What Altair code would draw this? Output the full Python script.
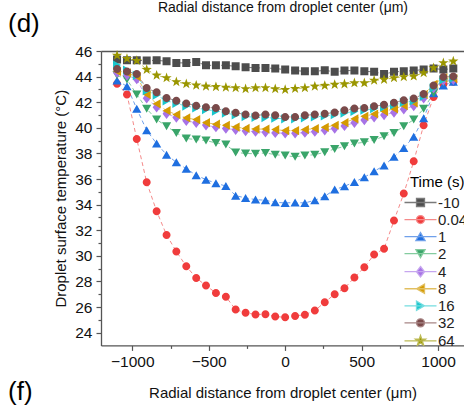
import altair as alt
import pandas as pd

radial_um = [-1100, -1035, -971, -906, -841, -776, -712, -647, -582, -518,
             -453, -388, -324, -259, -194, -129, -65, 0, 65, 129,
             194, 259, 324, 388, 453, 518, 582, 647, 712, 776,
             841, 906, 971, 1035, 1100]

time_labels = ["-10", "0.04", "1", "2", "4", "8", "16", "32", "64"]

t_m10 = [45.33, 45.27, 45.27, 45.25, 45.27, 45.20, 45.07, 45.07, 45.15, 44.88,
         44.88, 44.88, 44.80, 44.73, 44.68, 44.68, 44.63, 44.55, 44.47, 44.41,
         44.41, 44.49, 44.37, 44.47, 44.47, 44.41, 44.37, 44.20, 44.37, 44.41,
         44.47, 44.55, 44.63, 44.55, 44.63]
t_004 = [43.45, 42.60, 39.13, 35.74, 33.48, 31.63, 30.33, 29.18, 28.27, 27.67,
         27.10, 26.80, 25.80, 25.55, 25.42, 25.43, 25.25, 25.20, 25.30, 25.40,
         25.72, 26.37, 27.00, 27.46, 28.30, 29.10, 30.10, 30.56, 32.75, 34.86,
         37.38, 40.20, 42.40, 43.40, 43.60]
t_1 = [43.70, 43.24, 41.48, 39.80, 38.77, 37.90, 37.30, 36.80, 36.30, 35.95,
       35.67, 35.45, 34.70, 34.52, 34.39, 34.34, 34.18, 34.13, 34.16, 34.13,
       34.34, 34.65, 35.17, 35.43, 35.77, 36.13, 36.60, 37.05, 37.73, 38.43,
       39.30, 40.75, 42.70, 43.30, 43.60]
t_2 = [44.10, 43.77, 42.60, 41.48, 40.64, 40.12, 39.60, 39.16, 39.08, 39.00,
       38.82, 38.70, 38.07, 38.00, 37.97, 38.04, 37.90, 37.83, 37.73, 37.83,
       37.90, 38.09, 38.35, 38.55, 38.77, 38.87, 39.05, 39.34, 39.60, 40.12,
       40.64, 41.48, 42.70, 43.55, 43.77]
t_4 = [44.30, 44.10, 43.80, 42.30, 41.60, 41.10, 40.80, 40.55, 40.40, 40.20,
       40.05, 39.95, 39.85, 39.75, 39.70, 39.65, 39.60, 39.58, 39.58, 39.62,
       39.70, 39.80, 39.95, 40.15, 40.40, 40.60, 40.82, 41.00, 41.20, 41.45,
       41.70, 42.30, 43.10, 43.70, 43.75]
t_8 = [44.40, 44.30, 44.00, 42.60, 41.87, 41.34, 41.03, 40.77, 40.64, 40.40,
       40.28, 40.20, 40.06, 39.95, 39.90, 39.90, 39.86, 39.78, 39.78, 39.86,
       39.94, 40.04, 40.20, 40.40, 40.70, 40.90, 41.08, 41.29, 41.48, 41.73,
       41.95, 42.60, 43.40, 43.90, 43.85]
t_16 = [44.90, 44.50, 44.10, 42.90, 42.55, 42.10, 41.90, 41.70, 41.55, 41.42,
        41.30, 41.15, 41.00, 40.88, 40.82, 40.80, 40.75, 40.70, 40.70, 40.78,
        40.85, 40.92, 41.02, 41.15, 41.28, 41.38, 41.50, 41.62, 41.78, 41.98,
        42.10, 42.45, 43.10, 43.75, 43.85]
t_32 = [44.60, 44.40, 44.20, 43.10, 42.77, 42.33, 42.12, 41.90, 41.73, 41.60,
        41.55, 41.30, 41.18, 41.03, 40.97, 41.03, 40.98, 40.85, 40.85, 40.98,
        41.03, 41.10, 41.20, 41.38, 41.50, 41.55, 41.68, 41.80, 41.95, 42.15,
        42.28, 42.65, 43.30, 43.97, 44.00]
t_64 = [45.66, 45.40, 45.25, 44.55, 44.10, 43.90, 43.59, 43.43, 43.32, 43.24,
        43.20, 43.16, 43.12, 43.04, 43.12, 43.12, 43.04, 42.98, 43.06, 43.12,
        43.24, 43.30, 43.38, 43.42, 43.50, 43.50, 43.70, 43.77, 43.90, 43.98,
        44.03, 44.29, 44.68, 45.07, 45.20]

series = [t_m10, t_004, t_1, t_2, t_4, t_8, t_16, t_32, t_64]

colors = ["#4d4d4d", "#f03c3c", "#1f6fe0", "#3aa56a", "#a773e6",
          "#d49a00", "#19c6cc", "#7a4a4a", "#9a9600"]
line_colors = ["#7a7a7a", "#f58a8a", "#6fa0ea", "#84cc9f", "#c6a6ef",
               "#e2bf60", "#74dde0", "#a88686", "#bdbb55"]

LINE = "M-4,0H4"
shape_paths = [
    LINE + "M-1,-1H1V1H-1Z",
    LINE + "M1,0A1,1,0,1,1,-1,0A1,1,0,1,1,1,0Z",
    LINE + "M0,-1L1.15,1L-1.15,1Z",
    LINE + "M0,1L1.15,-1L-1.15,-1Z",
    LINE + "M0,-1.3L1,0L0,1.3L-1,0Z",
    LINE + "M-1,0L1,-1.15L1,1.15Z",
    LINE + "M1,0L-1,-1.15L-1,1.15Z",
    LINE + "M1,0A1,1,0,1,1,-1,0A1,1,0,1,1,1,0Z",
    LINE + "M0,-1.35L0.31,-0.43L1.28,-0.42L0.51,0.17L0.79,1.09L0,0.54L-0.79,1.09L-0.51,0.17L-1.28,-0.42L-0.31,-0.43Z",
]

rows = []
for lab, vals in zip(time_labels, series):
    for r, t in zip(radial_um, vals):
        rows.append({"r": r, "T": t, "time": lab})
df = pd.DataFrame(rows)

FONT = "Liberation Sans"
AX = "#555555"

x_scale = alt.Scale(domain=[-1205, 1170], nice=False, zero=False)
y_scale = alt.Scale(domain=[23, 46], nice=False, zero=False)

x_bottom = alt.X(
    "r:Q", scale=x_scale,
    axis=alt.Axis(
        orient="bottom",
        title="Radial distance from droplet center (μm)",
        values=[-1000, -750, -500, -250, 0, 250, 500, 750, 1000],
        format="d",
        labelExpr="datum.value % 500 === 0 ? datum.label : ''",
        tickSize={"condition": {"test": "datum.value % 500 !== 0", "value": 3}, "value": 5},
        labelOverlap=False, labelFlush=False,
        labelPadding=4.5, titlePadding=15.5,
        labelFontSize=15.5, titleFontSize=15,
    ),
)
x_top = alt.X(
    "r:Q", scale=x_scale,
    axis=alt.Axis(
        orient="top",
        title="Radial distance from droplet center (μm)",
        labels=False, ticks=False, domain=True,
        titlePadding=37, titleFontSize=14,
    ),
)
y_enc = alt.Y(
    "T:Q", scale=y_scale,
    axis=alt.Axis(
        title="Droplet surface temperature (°C)",
        values=list(range(24, 47)),
        labelExpr="datum.value % 2 === 0 ? datum.label : ''",
        tickSize={"condition": {"test": "datum.value % 2 !== 0", "value": 3}, "value": 5},
        labelOverlap=False, labelFlush=False,
        labelPadding=4, titlePadding=6,
        labelFontSize=15.5, titleFontSize=15,
    ),
)

legend = alt.Legend(
    title="Time (s)", orient="none", legendX=309, legendY=124,
    padding=0, symbolSize=64, symbolOffset=3, labelOffset=10,
    rowPadding=1.05, titlePadding=5, symbolStrokeWidth=1.3,
    titleFontSize=15, titleFontWeight="normal", labelFontSize=15,
    titleFont=FONT, labelFont=FONT, titleColor="black", labelColor="#222222",
)

color_enc = alt.Color("time:N", sort=time_labels,
                      scale=alt.Scale(domain=time_labels, range=colors),
                      legend=legend)
shape_enc = alt.Shape("time:N", sort=time_labels,
                      scale=alt.Scale(domain=time_labels, range=shape_paths),
                      legend=legend)
stroke_enc = alt.Stroke("time:N", sort=time_labels,
                        scale=alt.Scale(domain=time_labels, range=line_colors),
                        legend=legend)

lines = alt.Chart(df).mark_line(strokeWidth=1, strokeDash=[4, 3]).encode(
    x=x_bottom, y=y_enc,
    stroke=alt.Stroke("time:N", sort=time_labels,
                      scale=alt.Scale(domain=time_labels, range=line_colors),
                      legend=None),
)

points = alt.Chart(df).mark_point(filled=True, opacity=1, size=64).encode(
    x=x_top, y=y_enc, color=color_enc, shape=shape_enc, stroke=stroke_enc,
    strokeWidth=alt.value(0),
)

label_d = alt.Chart(pd.DataFrame({"t": ["(d)"]})).mark_text(
    align="left", baseline="alphabetic", fontSize=26, font=FONT, color="black"
).encode(text="t:N", x=alt.value(-93), y=alt.value(-19))

label_f = alt.Chart(pd.DataFrame({"t": ["(f)"]})).mark_text(
    align="left", baseline="alphabetic", fontSize=26, font=FONT, color="black"
).encode(text="t:N", x=alt.value(-93), y=alt.value(349))

chart = alt.layer(lines, points, label_d, label_f).resolve_axis(
    x="independent"
).resolve_scale(
    stroke="independent"
).resolve_legend(
    color="independent", shape="independent", stroke="independent"
).properties(
    width=363, height=294.4,
    autosize=alt.AutoSizeParams(type="none"),
    padding={"left": 101, "top": 51, "right": 0, "bottom": 61.6},
).configure_view(stroke=None).configure_axis(
    labelFont=FONT, titleFont=FONT, labelColor="#111111", titleColor="#111111",
    titleFontWeight="normal", domainColor=AX, tickColor=AX, domainWidth=1.3,
    tickWidth=1.2, grid=False,
)

chart.save("out.html", embed_options={"renderer": "svg", "actions": False})
